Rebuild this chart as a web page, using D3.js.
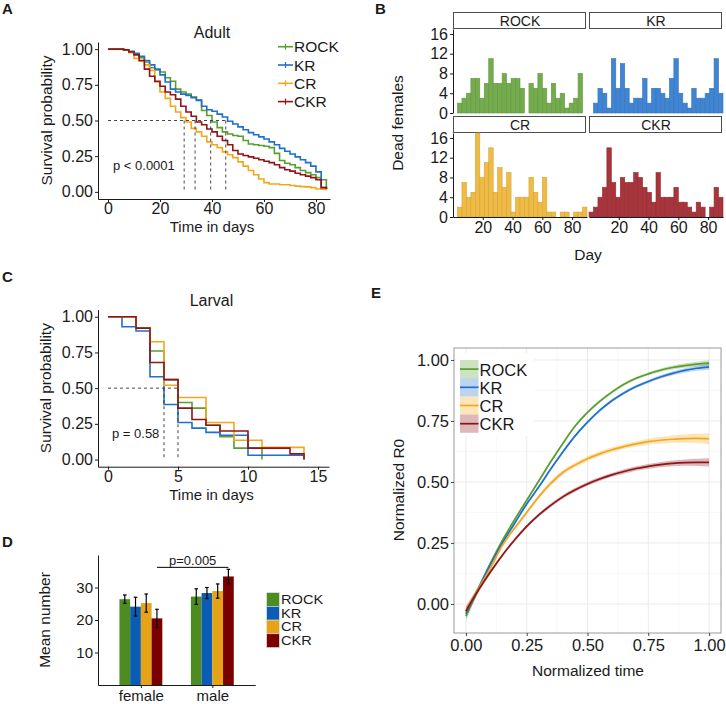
<!DOCTYPE html>
<html>
<head>
<meta charset="utf-8">
<script src="https://cdn.jsdelivr.net/npm/d3@7"></script>
<style>
  body { margin: 0; background: #fff; }
  svg { display: block; font-family: "Liberation Sans", Arial, sans-serif; }
</style>
</head>
<body>
<svg id="fig" width="726" height="704"></svg>
<script>
// ---- data ----
const strains = ['ROCK', 'KR', 'CR', 'CKR'];

// A: adult survival, read every 2 days
const adultDays = [0,2,4,6,8,10,12,14,16,18,20,22,24,26,28,30,32,34,36,38,40,42,44,46,48,50,52,54,56,58,60,62,64,66,68,70,72,74,76,78,80,82,84];
const adultROCK = [1,1,1,.995,.98,.965,.94,.91,.87,.855,.84,.80,.775,.72,.70,.685,.665,.645,.57,.535,.49,.45,.42,.405,.395,.39,.36,.335,.33,.325,.32,.31,.27,.22,.20,.19,.17,.15,.135,.12,.10,.085,.02];
const adultKR   = [1,1,1,.995,.985,.97,.95,.92,.89,.86,.82,.77,.72,.70,.685,.675,.66,.64,.60,.575,.565,.545,.525,.495,.475,.455,.435,.415,.40,.385,.37,.35,.33,.305,.285,.265,.245,.225,.205,.18,.14,.03,.02];
const adultCR   = [1,1,1,.995,.975,.935,.915,.89,.85,.77,.70,.655,.60,.56,.52,.49,.445,.42,.39,.35,.33,.31,.28,.26,.24,.21,.18,.15,.12,.09,.065,.055,.055,.05,.05,.045,.04,.037,.035,.03,.02,.018,.01];
const adultCKR  = [1,1,1,.995,.98,.96,.92,.86,.81,.775,.74,.70,.68,.65,.60,.56,.53,.49,.47,.44,.42,.39,.36,.33,.29,.265,.255,.245,.235,.225,.215,.205,.19,.17,.155,.145,.13,.12,.11,.10,.085,.03,.02];
const adultMedians = [29.3, 33.5, 39.5, 45.3];

// C: larval survival steps [day, survival]
const larvalROCK = [[0,1],[2,0.92],[3,0.76],[4,0.56],[5,0.40],[6,0.36],[7,0.24],[8,0.16],[9,0.08],[11,0]];
const larvalKR   = [[0,1],[1,0.93],[2,0.90],[3,0.58],[4,0.385],[5,0.26],[6,0.22],[7,0.19],[8,0.17],[10,0.03],[14,0]];
const larvalCR   = [[0,1],[2,0.92],[3,0.825],[4,0.52],[5,0.435],[7,0.26],[9,0.135],[11,0.085],[14,0]];
const larvalCKR  = [[0,1],[2,0.92],[3,0.68],[4,0.56],[5,0.36],[6,0.28],[7,0.24],[8,0.20],[10,0.08],[13,0.04],[14,0]];
const larvalMedians = [4, 5];

// B: dead females per 3-day bin
const binStarts = [0,3,6,9,12,15,18,21,24,27,30,33,36,39,42,45,48,51,54,57,60,63,66,69,72,75,78,81,84,87];
const deadROCK = [0,2,3,4,7,7,3,6,11,6,6,8,6,7,7,5,0,6,5,8,5,2,6,3,4,1,2,3,8,0];
const deadKR   = [0,2,5,4,1,11,5,10,5,2,3,3,7,2,5,5,4,3,7,11,4,2,1,5,3,3,4,5,11,4];
const deadCR   = [0,2,7,4,5,17,8,11,14,5,10,6,9,1,4,4,4,8,5,3,8,1,1,0,1,1,0,1,1,2];
const deadCKR  = [1,2,4,6,14,7,4,8,7,7,9,8,6,5,3,9,4,4,4,6,3,3,2,1,3,2,0,2,6,4];

// D: mean number by sex
const sexes = ['female', 'male'];
const meanFemale = [26.4, 24.1, 25.2, 20.5];
const errFemale  = [1.3, 2.9, 2.8, 2.8];
const meanMale   = [27.2, 28.3, 28.9, 33.4];
const errMale    = [2.4, 1.7, 2.2, 2.2];

// E: normalized R0 over normalized time
const normTime = [0,0.05,0.1,0.15,0.2,0.25,0.3,0.35,0.4,0.45,0.5,0.55,0.6,0.65,0.7,0.75,0.8,0.85,0.9,0.95,1];
const r0ROCK = [-0.05,0.06,0.165,0.26,0.345,0.425,0.505,0.585,0.66,0.73,0.785,0.83,0.868,0.9,0.925,0.943,0.958,0.969,0.977,0.983,0.987];
const r0KR   = [-0.04,0.06,0.16,0.25,0.33,0.41,0.48,0.555,0.625,0.69,0.745,0.793,0.833,0.865,0.891,0.912,0.93,0.945,0.957,0.966,0.972];
const r0CR   = [-0.03,0.06,0.145,0.24,0.31,0.375,0.44,0.495,0.54,0.57,0.595,0.615,0.632,0.645,0.656,0.665,0.671,0.675,0.678,0.679,0.677];
const r0CKR  = [-0.03,0.055,0.13,0.2,0.262,0.318,0.365,0.405,0.44,0.468,0.492,0.512,0.529,0.543,0.555,0.564,0.571,0.576,0.579,0.58,0.58];
const seROCK = [0.02,0.012,0.008,0.007,0.006,0.006,0.006,0.006,0.006,0.006,0.006,0.006,0.006,0.006,0.006,0.006,0.007,0.008,0.009,0.01,0.012];
const seKR   = [0.02,0.012,0.008,0.007,0.006,0.006,0.006,0.006,0.006,0.006,0.006,0.006,0.006,0.006,0.006,0.006,0.007,0.008,0.009,0.01,0.012];
const seCR   = [0.02,0.012,0.009,0.008,0.008,0.008,0.009,0.01,0.01,0.01,0.01,0.01,0.01,0.01,0.011,0.012,0.013,0.015,0.017,0.019,0.022];
const seCKR  = [0.02,0.012,0.008,0.007,0.007,0.007,0.007,0.008,0.008,0.008,0.008,0.008,0.008,0.009,0.009,0.01,0.011,0.012,0.013,0.015,0.017];

// ---- styles ----
const lineCol = { ROCK: '#5a9e2f', KR: '#1f6fce', CR: '#f2a81d', CKR: '#8f1418' };
const barCol  = { ROCK: '#4c8c21', KR: '#0b5cb5', CR: '#e5a315', CKR: '#7a0000' };
const histCol = { ROCK: '#74ab4d', KR: '#3f85d3', CR: '#f0bb45', CKR: '#a8343c' };
const ink = '#1a1a1a';
const font = '"Liberation Sans", Arial, sans-serif';

const svg = d3.select('#fig');

function styleAxis(sel, size) {
  sel.attr('font-family', font).attr('font-size', size);
  sel.select('.domain').attr('stroke', ink).attr('stroke-width', 1);
  sel.selectAll('.tick line').attr('stroke', ink);
  sel.selectAll('.tick text').attr('fill', ink);
}

function label(x, y, txt, size, opts = {}) {
  const t = svg.append('text')
    .attr('x', x).attr('y', y)
    .attr('font-size', size).attr('fill', opts.fill || ink)
    .attr('text-anchor', opts.anchor || 'middle')
    .attr('dominant-baseline', opts.baseline || 'central')
    .text(txt);
  if (opts.bold) t.attr('font-weight', 'bold');
  if (opts.rotate) t.attr('transform', `rotate(-90,${x},${y})`);
  return t;
}

// panel letters
label(2, 13.5, 'A', 15, { anchor: 'start', baseline: 'auto', bold: true });
label(375, 13.5, 'B', 15, { anchor: 'start', baseline: 'auto', bold: true });
label(2, 282, 'C', 15, { anchor: 'start', baseline: 'auto', bold: true });
label(2, 547, 'D', 15, { anchor: 'start', baseline: 'auto', bold: true });
label(371, 298, 'E', 15, { anchor: 'start', baseline: 'auto', bold: true });

// ---- A & C: survival ----
function drawSurvival(cfg) {
  const x = d3.scaleLinear().domain(cfg.xDomain).range(cfg.xRange);
  const y = d3.scaleLinear().domain([-0.05, 1.05]).range(cfg.yRange);
  const g = svg.append('g');

  g.append('g').attr('transform', `translate(0,${cfg.yRange[0]})`)
    .call(d3.axisBottom(x).tickValues(cfg.xTicks).tickSize(3).tickPadding(1).tickSizeOuter(0))
    .call(styleAxis, 16);
  g.append('g').attr('transform', `translate(${cfg.xRange[0]},0)`)
    .call(d3.axisLeft(y).tickValues([0, 0.25, 0.5, 0.75, 1]).tickFormat(d3.format('.2f'))
      .tickSize(3).tickPadding(2).tickSizeOuter(0))
    .call(styleAxis, 16);

  const line = d3.line().x(d => x(d[0])).y(d => y(d[1])).curve(d3.curveStepAfter);
  strains.forEach(s => {
    g.append('path').datum(cfg.curves[s])
      .attr('d', line).attr('fill', 'none')
      .attr('stroke', lineCol[s]).attr('stroke-width', 1.6);
  });

  // median lines
  const dash = g.append('g').attr('stroke', '#333').attr('stroke-width', 0.9)
    .attr('stroke-dasharray', '3,3').attr('fill', 'none');
  dash.append('line').attr('x1', x(0)).attr('x2', x(d3.max(cfg.medians)))
    .attr('y1', y(0.5)).attr('y2', y(0.5));
  cfg.medians.forEach(m => {
    dash.append('line').attr('x1', x(m)).attr('x2', x(m)).attr('y1', y(0.5)).attr('y2', y(0));
  });

  const mid = (cfg.xRange[0] + cfg.xRange[1]) / 2 - 2;
  label(mid, cfg.titleY, cfg.title, 16);
  label(mid, cfg.yRange[0] + 27.5, 'Time in days', 15);
  label(46, (cfg.yRange[0] + cfg.yRange[1]) / 2, 'Survival probability', 15.5, { rotate: true });
  label(cfg.pX, cfg.pY, cfg.pText, 13, { anchor: 'start' });
  return { x, y };
}

const pairs = arr => adultDays.map((d, i) => [d, arr[i]]);
drawSurvival({
  xDomain: [-3.85, 85.4], xRange: [98, 330], yRange: [199, 42],
  xTicks: [0, 20, 40, 60, 80],
  curves: { ROCK: pairs(adultROCK), KR: pairs(adultKR), CR: pairs(adultCR), CKR: pairs(adultCKR) },
  medians: adultMedians, title: 'Adult', titleY: 32,
  pText: 'p < 0.0001', pX: 113, pY: 165
});
drawSurvival({
  xDomain: [-0.714, 15.786], xRange: [98, 329], yRange: [466.7, 309.6],
  xTicks: [0, 5, 10, 15],
  curves: { ROCK: larvalROCK, KR: larvalKR, CR: larvalCR, CKR: larvalCKR },
  medians: larvalMedians, title: 'Larval', titleY: 300,
  pText: 'p = 0.58', pX: 112, pY: 433
});

// legend for A
strains.forEach((s, i) => {
  const yy = 46.7 + i * 18.3;
  svg.append('line').attr('x1', 278).attr('x2', 293).attr('y1', yy).attr('y2', yy)
    .attr('stroke', lineCol[s]).attr('stroke-width', 1.6);
  svg.append('line').attr('x1', 285.5).attr('x2', 285.5).attr('y1', yy - 3).attr('y2', yy + 3)
    .attr('stroke', lineCol[s]).attr('stroke-width', 1.2);
  label(294, yy, s, 15.5, { anchor: 'start' });
});

// ---- B: histograms ----
const facets = [
  { name: 'ROCK', vals: deadROCK, left: 453, top: 29, yAxis: true, xAxis: false },
  { name: 'KR', vals: deadKR, left: 589, top: 29, yAxis: false, xAxis: false },
  { name: 'CR', vals: deadCR, left: 453, top: 133, yAxis: true, xAxis: true },
  { name: 'CKR', vals: deadCKR, left: 589, top: 133, yAxis: false, xAxis: true }
];
facets.forEach(f => {
  const x = d3.scaleLinear().domain([0, 90]).range([f.left, f.left + 134]);
  const y = d3.scaleLinear().domain([0, 17]).range([f.top + 84, f.top]);
  const g = svg.append('g');
  g.append('rect').attr('x', f.left + 0.5).attr('y', f.top - 16.5).attr('width', 132).attr('height', 16)
    .attr('fill', '#fff').attr('stroke', '#4d4d4d').attr('stroke-width', 1);
  g.append('text').attr('x', f.left + 67).attr('y', f.top - 8.5)
    .attr('text-anchor', 'middle').attr('dominant-baseline', 'central')
    .attr('font-size', 14).attr('fill', ink).text(f.name);
  const col = histCol[f.name];
  g.selectAll('rect.bar').data(f.vals.map((v, i) => [binStarts[i], v]).filter(d => d[1] > 0))
    .join('rect').attr('class', 'bar')
    .attr('x', d => x(d[0])).attr('width', d => x(d[0] + 3) - x(d[0]))
    .attr('y', d => y(d[1])).attr('height', d => y(0) - y(d[1]))
    .attr('fill', col).attr('stroke', d3.color(col).darker(0.35)).attr('stroke-width', 0.6);
  if (f.yAxis) {
    g.append('g').attr('transform', `translate(${f.left},0)`)
      .call(d3.axisLeft(y).tickValues([0, 4, 8, 12, 16]).tickSize(3).tickPadding(2).tickSizeOuter(0))
      .call(styleAxis, 16);
  }
  if (f.xAxis) {
    g.append('g').attr('transform', `translate(0,${f.top + 84})`)
      .call(d3.axisBottom(x).tickValues([20, 40, 60, 80]).tickSize(3).tickPadding(2).tickSizeOuter(0))
      .call(styleAxis, 16);
  }
});
label(397, 123, 'Dead females', 15.5, { rotate: true });
label(588, 254, 'Day', 15.5);

// ---- D: bars ----
{
  const x = d3.scalePoint().domain(sexes).range([98, 255.2]).padding(0.6);
  const step = x.step();
  const inner = d3.scaleBand().domain(strains).range([-0.3 * step, 0.3 * step]);
  const y = d3.scaleLinear().domain([0, 40]).range([685, 555]);
  const g = svg.append('g');
  const rows = [];
  sexes.forEach((sx, si) => strains.forEach((s, k) => {
    rows.push({ sex: sx, strain: s,
      mean: si === 0 ? meanFemale[k] : meanMale[k],
      err: si === 0 ? errFemale[k] : errMale[k] });
  }));
  g.selectAll('rect.bar').data(rows).join('rect')
    .attr('x', d => x(d.sex) + inner(d.strain)).attr('width', inner.bandwidth())
    .attr('y', d => y(d.mean)).attr('height', d => y(0) - y(d.mean))
    .attr('fill', d => barCol[d.strain]);
  const cx = d => x(d.sex) + inner(d.strain) + inner.bandwidth() / 2;
  const eb = g.append('g').attr('stroke', '#000').attr('stroke-width', 1.2);
  rows.forEach(d => {
    eb.append('line').attr('x1', cx(d)).attr('x2', cx(d)).attr('y1', y(d.mean - d.err)).attr('y2', y(d.mean + d.err));
    [d.mean - d.err, d.mean + d.err].forEach(v => {
      eb.append('line').attr('x1', cx(d) - 1.8).attr('x2', cx(d) + 1.8).attr('y1', y(v)).attr('y2', y(v));
    });
  });
  g.append('g').attr('transform', 'translate(0,685)')
    .call(d3.axisBottom(x).tickSize(3).tickPadding(2).tickSizeOuter(0))
    .call(styleAxis, 15);
  g.append('g').attr('transform', 'translate(98,0)')
    .call(d3.axisLeft(y).tickValues([10, 20, 30]).tickSize(3).tickPadding(2).tickSizeOuter(0))
    .call(styleAxis, 15);
  // significance
  const xa = cx(rows[3]), xb = cx(rows[7]);
  g.append('line').attr('x1', xa).attr('x2', xb).attr('y1', y(36.2)).attr('y2', y(36.2))
    .attr('stroke', '#000').attr('stroke-width', 1);
  label((xa + xb) / 2, y(38.3), 'p=0.005', 13);
  label(44, 620, 'Mean number', 15.5, { rotate: true });
  // legend (text stretched sideways as in the figure, kept short so rows do not collide)
  strains.forEach((s, i) => {
    const yy = 592.7 + i * 13.7;
    g.append('rect').attr('x', 266.7).attr('y', yy).attr('width', 12.6).attr('height', 13.7)
      .attr('fill', barCol[s]).attr('stroke', '#ddd').attr('stroke-width', 0.6);
    g.append('text').attr('transform', `translate(281,${yy + 7.2}) scale(1.22,1)`)
      .attr('font-size', 12).attr('fill', ink).attr('dominant-baseline', 'central')
      .text(s);
  });
}

// ---- E: normalized R0 ----
{
  const x = d3.scaleLinear().domain([-0.049, 1.049]).range([454, 721]);
  const y = d3.scaleLinear().domain([-0.119, 1.049]).range([633, 348]);
  const g = svg.append('g');
  const minor = [0.125, 0.375, 0.625, 0.875];
  const major = [0, 0.25, 0.5, 0.75, 1];
  minor.forEach(v => {
    g.append('line').attr('x1', x(v)).attr('x2', x(v)).attr('y1', 348).attr('y2', 633).attr('stroke', '#f3f3f3').attr('stroke-width', 0.6);
    g.append('line').attr('y1', y(v)).attr('y2', y(v)).attr('x1', 454).attr('x2', 721).attr('stroke', '#f3f3f3').attr('stroke-width', 0.6);
  });
  major.forEach(v => {
    g.append('line').attr('x1', x(v)).attr('x2', x(v)).attr('y1', 348).attr('y2', 633).attr('stroke', '#ebebeb').attr('stroke-width', 1);
    g.append('line').attr('y1', y(v)).attr('y2', y(v)).attr('x1', 454).attr('x2', 721).attr('stroke', '#ebebeb').attr('stroke-width', 1);
  });
  const series = { ROCK: [r0ROCK, seROCK], KR: [r0KR, seKR], CR: [r0CR, seCR], CKR: [r0CKR, seCKR] };
  const area = d3.area().x(d => x(d.t)).y0(d => y(d.v - d.se)).y1(d => y(d.v + d.se)).curve(d3.curveMonotoneX);
  const line = d3.line().x(d => x(d.t)).y(d => y(d.v)).curve(d3.curveMonotoneX);
  strains.forEach(s => {
    const pts = normTime.map((t, i) => ({ t, v: series[s][0][i], se: series[s][1][i] }));
    g.append('path').datum(pts).attr('d', area).attr('fill', lineCol[s]).attr('opacity', 0.3);
  });
  strains.forEach(s => {
    const pts = normTime.map((t, i) => ({ t, v: series[s][0][i] }));
    g.append('path').datum(pts).attr('d', line).attr('fill', 'none')
      .attr('stroke', lineCol[s]).attr('stroke-width', 1.7);
  });
  // legend
  g.append('rect').attr('x', 456).attr('y', 353).attr('width', 78).attr('height', 83).attr('fill', '#fff');
  strains.forEach((s, i) => {
    const yy = 360 + i * 18.2;
    g.append('rect').attr('x', 460).attr('y', yy).attr('width', 18.5).attr('height', 18.2)
      .attr('fill', lineCol[s]).attr('opacity', 0.3);
    g.append('line').attr('x1', 460).attr('x2', 478.5).attr('y1', yy + 9.1).attr('y2', yy + 9.1)
      .attr('stroke', lineCol[s]).attr('stroke-width', 1.7);
    label(479.5, yy + 9.5, s, 16.5, { anchor: 'start' });
  });
  g.append('rect').attr('x', 454).attr('y', 348).attr('width', 267).attr('height', 285)
    .attr('fill', 'none').attr('stroke', '#9a9a9a').attr('stroke-width', 1);
  const ax = g.append('g').attr('transform', 'translate(0,633)')
    .call(d3.axisBottom(x).tickValues(major).tickFormat(d3.format('.2f')).tickSize(3).tickPadding(3).tickSizeOuter(0))
    .call(styleAxis, 16.5);
  ax.select('.domain').remove();
  ax.selectAll('.tick line').attr('stroke', '#444');
  const ay = g.append('g').attr('transform', 'translate(454,0)')
    .call(d3.axisLeft(y).tickValues(major).tickFormat(d3.format('.2f')).tickSize(3).tickPadding(2).tickSizeOuter(0))
    .call(styleAxis, 16.5);
  ay.select('.domain').remove();
  ay.selectAll('.tick line').attr('stroke', '#444');
  label(588, 670, 'Normalized time', 15.5);
  label(398, 490, 'Normalized R0', 15.5, { rotate: true });
}
</script>
</body>
</html>
